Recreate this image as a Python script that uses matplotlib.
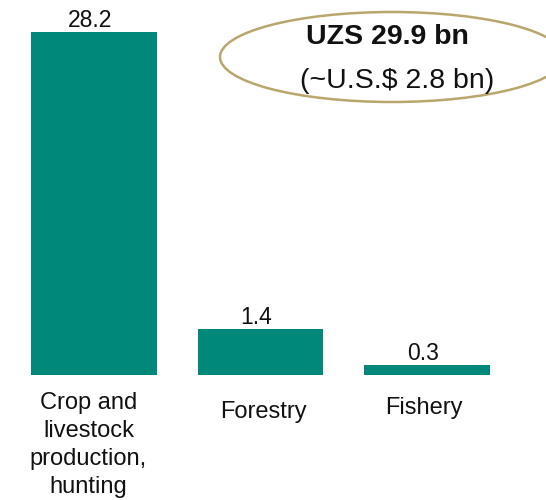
import matplotlib
matplotlib.use("Agg")
import matplotlib.pyplot as plt
from matplotlib.patches import Ellipse
import numpy as np

plt.rcParams['font.family'] = ['Liberation Sans', 'DejaVu Sans']

# Gross output by sub-sector, UZS bn
categories = ["Crop and\nlivestock\nproduction,\nhunting", "Forestry", "Fishery"]
values = [28.2, 1.4, 0.3]
value_labels = ["28.2", "1.4", "0.3"]
total_title = "UZS 29.9 bn"
total_subtitle = "(~U.S.$ 2.8 bn)"

BAR_COLOR = "#00897B"
RING_COLOR = "#B9A66C"

# Piecewise-linear value axis: small values at full scale, large ones compressed
BREAK = 2.0
SQUEEZE = 0.3204


def forward(y):
    y = np.asarray(y, dtype=float)
    return np.where(y <= BREAK, y, BREAK + (y - BREAK) * SQUEEZE)


def inverse(y):
    y = np.asarray(y, dtype=float)
    return np.where(y <= BREAK, y, BREAK + (y - BREAK) / SQUEEZE)


fig = plt.figure(figsize=(5.46, 5.00), dpi=100)
ax = fig.add_axes([0, 0.25, 1, 0.75])
ax.set_yscale('function', functions=(forward, inverse))

x = np.arange(len(values))
bars = ax.bar(x, values, width=0.751, color=BAR_COLOR)

px_per_unit = 166.5
ax.set_xlim(-94 / px_per_unit, (546 - 94) / px_per_unit)
ax.set_ylim(0, 31.2)
ax.axis('off')

# value labels above each bar
for xi, v, lab in zip(x, values, value_labels):
    ax.annotate(lab, xy=(xi, v), xytext=(-3, 3.5), textcoords='offset points',
                ha='center', va='baseline', fontsize=16.5, color='#111111')

# category labels under the bars
label_offsets = [(-4, -12), (2, -19), (-2, -16)]
for xi, cat, (dx, dy) in zip(x, categories, label_offsets):
    ax.annotate(cat, xy=(xi, 0), xytext=(dx, dy), textcoords='offset points',
                ha='center', va='top', fontsize=17, color='#111111',
                linespacing=1.36, annotation_clip=False)

# total figure in an oval callout
ring = Ellipse((392 / 546, 1 - 57 / 500), 344 / 546, 90 / 500,
               transform=fig.transFigure, fill=False, edgecolor=RING_COLOR,
               linewidth=1.8, clip_on=False)
fig.add_artist(ring)
fig.text(387 / 546, 1 - 44 / 500, total_title, ha='center', va='baseline',
         fontsize=20.5, fontweight='bold', color='#111111')
fig.text(397 / 546, 1 - 88 / 500, total_subtitle, ha='center', va='baseline',
         fontsize=20.5, color='#111111')

fig.savefig("out.png", dpi=100)
